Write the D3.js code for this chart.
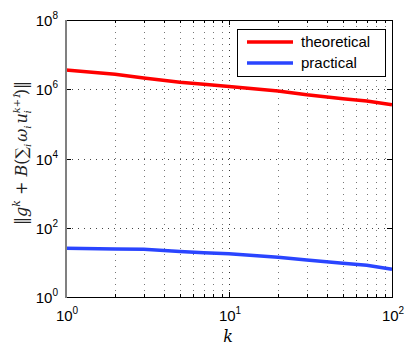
<!DOCTYPE html>
<html>
<head>
<meta charset="utf-8">
<script src="https://cdn.jsdelivr.net/npm/d3@7"></script>
<style>
  body { margin: 0; background: #fff; }
  svg { display: block; font-family: "Liberation Sans", Arial, sans-serif; }
</style>
</head>
<body>
<svg id="chart" width="411" height="347"></svg>
<script>
// data
const kValues = [1, 2, 3, 5, 7, 10, 20, 30, 50, 70, 100];
const theoretical = [3.6e6, 2.7e6, 2.1e6, 1.6e6, 1.4e6, 1.2e6, 8.9e5, 6.9e5, 5.3e5, 4.6e5, 3.55e5];
const practical = [25.5, 24.5, 24, 20.5, 19, 17.8, 14, 11.7, 9.4, 8.2, 6.3];
const xTicks = [1, 10, 100];
const yTicks = [1, 1e2, 1e4, 1e6, 1e8];
const seriesNames = ["theoretical", "practical"];
const seriesColors = ["#ff0000", "#2a45ff"];

const svg = d3.select("#chart");
const pLeft = 66, pRight = 392, pTop = 20, pBottom = 297;

const x = d3.scaleLog().domain([1, 100]).range([pLeft, pRight]);
const y = d3.scaleLog().domain([1, 1e8]).range([pBottom, pTop]);

// minor x ticks (2..9 per decade)
const xMinor = [];
for (let d = 1; d < 100; d *= 10) {
  for (let m = 2; m <= 9; m++) xMinor.push(d * m);
}

const grid = svg.append("g").attr("stroke", "#444").attr("stroke-width", 1)
  .attr("stroke-dasharray", "1,5").attr("shape-rendering", "crispEdges");

// vertical grid at minor + inner major
grid.selectAll("line.v")
  .data(xMinor.concat([10]))
  .enter().append("line")
  .attr("x1", (d) => Math.round(x(d)) + 0.5)
  .attr("x2", (d) => Math.round(x(d)) + 0.5)
  .attr("y1", pTop)
  .attr("y2", pBottom)
  .attr("stroke", (d) => (d === 10 ? "#333" : "#777"));

// horizontal grid at inner major y
grid.selectAll("line.h")
  .data([1e2, 1e4, 1e6])
  .enter().append("line")
  .attr("x1", pLeft)
  .attr("x2", pRight)
  .attr("y1", (d) => Math.round(y(d)) + 0.5)
  .attr("y2", (d) => Math.round(y(d)) + 0.5);

// tick marks
const ticks = svg.append("g").attr("stroke", "#000").attr("stroke-width", 1)
  .attr("shape-rendering", "crispEdges");
xMinor.concat(xTicks).forEach((d) => {
  const len = xTicks.includes(d) ? 5 : 3;
  const px = Math.round(x(d)) + 0.5;
  ticks.append("line").attr("x1", px).attr("x2", px).attr("y1", pBottom).attr("y2", pBottom - len);
  ticks.append("line").attr("x1", px).attr("x2", px).attr("y1", pTop).attr("y2", pTop + len);
});
yTicks.forEach((d) => {
  const py = Math.round(y(d)) + 0.5;
  ticks.append("line").attr("x1", pLeft).attr("x2", pLeft + 5).attr("y1", py).attr("y2", py);
  ticks.append("line").attr("x1", pRight).attr("x2", pRight - 5).attr("y1", py).attr("y2", py);
});

// series lines
const line = d3.line()
  .x((d) => x(d[0]))
  .y((d) => y(d[1]));

[theoretical, practical].forEach((vals, i) => {
  svg.append("path")
    .datum(kValues.map((k, j) => [k, vals[j]]))
    .attr("fill", "none")
    .attr("stroke", seriesColors[i])
    .attr("stroke-width", 3.5)
    .attr("d", line);
});

// frame
svg.append("rect")
  .attr("x", pLeft + 0.5).attr("y", pTop + 0.5)
  .attr("width", pRight - pLeft).attr("height", pBottom - pTop)
  .attr("fill", "none").attr("stroke", "#000").attr("stroke-width", 1)
  .attr("shape-rendering", "crispEdges");
svg.append("line")
  .attr("x1", pLeft).attr("x2", pLeft).attr("y1", pTop).attr("y2", pBottom + 1)
  .attr("stroke", "#808080").attr("stroke-width", 2);

// tick labels
function powerLabel(sel, exp) {
  sel.append("tspan").text("10");
  sel.append("tspan").attr("dy", -7).attr("font-size", 10).text(exp);
}

xTicks.forEach((d) => {
  const t = svg.append("text")
    .attr("x", x(d) + 1)
    .attr("y", 321)
    .attr("text-anchor", "middle")
    .attr("font-size", 15);
  powerLabel(t, Math.round(Math.log10(d)));
});

yTicks.forEach((d) => {
  const t = svg.append("text")
    .attr("x", 58)
    .attr("y", y(d) + 6)
    .attr("text-anchor", "end")
    .attr("font-size", 15);
  powerLabel(t, Math.round(Math.log10(d)));
});

// axis labels
svg.append("text")
  .attr("x", 228)
  .attr("y", 342)
  .attr("text-anchor", "middle")
  .style("font-family", "'DejaVu Serif', serif")
  .attr("font-style", "italic")
  .attr("font-size", 16)
  .text("k");

const yl = svg.append("text")
  .attr("transform", "translate(27,153) rotate(-90)")
  .attr("text-anchor", "middle")
  .style("font-family", "'DejaVu Serif', serif")
  .attr("fill", "#222")
  .attr("font-size", 16);
yl.append("tspan").text("‖");
yl.append("tspan").attr("font-style", "italic").text("g");
yl.append("tspan").attr("font-style", "italic").attr("font-size", 11).attr("dy", -7).text("k");
yl.append("tspan").attr("dy", 7).text(" + ");
yl.append("tspan").attr("font-style", "italic").text("B");
yl.append("tspan").text("(∑");
yl.append("tspan").attr("font-style", "italic").attr("font-size", 10).attr("dy", 4).text("i");
yl.append("tspan").attr("font-style", "italic").attr("dy", -4).attr("dx", 2).text("ω");
yl.append("tspan").attr("font-style", "italic").attr("font-size", 10).attr("dy", 4).text("i");
yl.append("tspan").attr("font-style", "italic").attr("dy", -4).attr("dx", 2).text("u");
yl.append("tspan").attr("font-style", "italic").attr("font-size", 10).attr("dy", -7).text("k+1");
yl.append("tspan").attr("font-style", "italic").attr("font-size", 10).attr("dx", -21).attr("dy", 11).text("i");
yl.append("tspan").attr("dx", 15).attr("dy", -4).text(")‖");

// legend
const lg = svg.append("g");
lg.append("rect")
  .attr("x", 237.5).attr("y", 29.5).attr("width", 148).attr("height", 47)
  .attr("fill", "#fff").attr("stroke", "#000").attr("stroke-width", 1);
seriesNames.forEach((name, i) => {
  const ly = 42 + i * 21;
  lg.append("line")
    .attr("x1", 247).attr("x2", 293).attr("y1", ly).attr("y2", ly)
    .attr("stroke", seriesColors[i]).attr("stroke-width", 3.5);
  lg.append("text")
    .attr("x", 301).attr("y", ly + 5)
    .attr("font-size", 15)
    .text(name);
});
</script>
</body>
</html>
